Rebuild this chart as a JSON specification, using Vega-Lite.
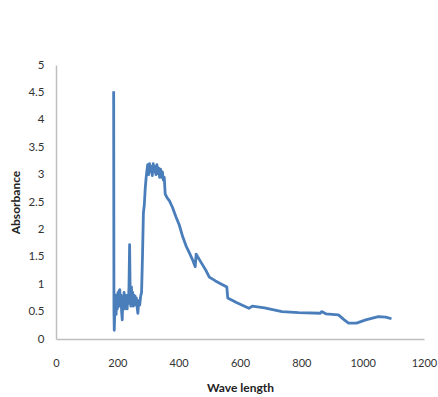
{
  "$schema": "https://vega.github.io/schema/vega-lite/v6.json",
  "autosize": "none",
  "width": 368,
  "height": 274,
  "padding": {"left": 56, "top": 65, "right": 14, "bottom": 58},
  "background": "white",
  "config": {"view": {"stroke": null}, "font": "Lato"},
  "data": {"values": [
    {"wl": 188, "abs": 4.52}, {"wl": 189, "abs": 0.5}, {"wl": 190, "abs": 0.16}, {"wl": 192, "abs": 0.55},
    {"wl": 194, "abs": 0.8}, {"wl": 196, "abs": 0.45}, {"wl": 198, "abs": 0.75}, {"wl": 200, "abs": 0.55},
    {"wl": 202, "abs": 0.85}, {"wl": 204, "abs": 0.6}, {"wl": 206, "abs": 0.88}, {"wl": 208, "abs": 0.9},
    {"wl": 210, "abs": 0.6}, {"wl": 212, "abs": 0.8}, {"wl": 214, "abs": 0.5}, {"wl": 216, "abs": 0.35},
    {"wl": 218, "abs": 0.75}, {"wl": 220, "abs": 0.6}, {"wl": 222, "abs": 0.85}, {"wl": 224, "abs": 0.55},
    {"wl": 226, "abs": 0.8}, {"wl": 228, "abs": 0.6}, {"wl": 230, "abs": 0.75}, {"wl": 232, "abs": 0.55},
    {"wl": 234, "abs": 0.8}, {"wl": 236, "abs": 0.65}, {"wl": 238, "abs": 0.95}, {"wl": 240, "abs": 1.72},
    {"wl": 242, "abs": 0.8}, {"wl": 244, "abs": 0.6}, {"wl": 246, "abs": 0.95}, {"wl": 248, "abs": 0.65},
    {"wl": 250, "abs": 0.85}, {"wl": 252, "abs": 0.6}, {"wl": 254, "abs": 0.8}, {"wl": 256, "abs": 0.62},
    {"wl": 258, "abs": 0.78}, {"wl": 260, "abs": 0.65}, {"wl": 262, "abs": 0.75}, {"wl": 264, "abs": 0.6},
    {"wl": 267, "abs": 0.47}, {"wl": 270, "abs": 0.7}, {"wl": 273, "abs": 0.62}, {"wl": 276, "abs": 0.78},
    {"wl": 279, "abs": 0.85}, {"wl": 282, "abs": 1.5}, {"wl": 285, "abs": 2.3}, {"wl": 288, "abs": 2.45},
    {"wl": 291, "abs": 2.75}, {"wl": 294, "abs": 2.95}, {"wl": 296, "abs": 3.05}, {"wl": 299, "abs": 3.18},
    {"wl": 302, "abs": 3.0}, {"wl": 305, "abs": 3.2}, {"wl": 308, "abs": 3.05}, {"wl": 311, "abs": 3.15},
    {"wl": 314, "abs": 2.98}, {"wl": 317, "abs": 3.2}, {"wl": 320, "abs": 3.05}, {"wl": 323, "abs": 3.15},
    {"wl": 326, "abs": 3.0}, {"wl": 329, "abs": 3.18}, {"wl": 332, "abs": 3.02}, {"wl": 335, "abs": 3.12},
    {"wl": 338, "abs": 2.95}, {"wl": 341, "abs": 3.1}, {"wl": 344, "abs": 2.95}, {"wl": 347, "abs": 3.05},
    {"wl": 350, "abs": 2.9}, {"wl": 353, "abs": 2.95}, {"wl": 356, "abs": 2.65}, {"wl": 362, "abs": 2.58},
    {"wl": 370, "abs": 2.52}, {"wl": 380, "abs": 2.4}, {"wl": 391, "abs": 2.23}, {"wl": 402, "abs": 2.08},
    {"wl": 413, "abs": 1.87}, {"wl": 424, "abs": 1.7}, {"wl": 435, "abs": 1.57}, {"wl": 445, "abs": 1.45},
    {"wl": 454, "abs": 1.32}, {"wl": 457, "abs": 1.55}, {"wl": 462, "abs": 1.5}, {"wl": 475, "abs": 1.38},
    {"wl": 490, "abs": 1.24}, {"wl": 500, "abs": 1.13}, {"wl": 520, "abs": 1.06}, {"wl": 540, "abs": 1.0},
    {"wl": 557, "abs": 0.95}, {"wl": 560, "abs": 0.75}, {"wl": 590, "abs": 0.66}, {"wl": 629, "abs": 0.56},
    {"wl": 640, "abs": 0.6}, {"wl": 680, "abs": 0.57}, {"wl": 737, "abs": 0.5}, {"wl": 791, "abs": 0.48},
    {"wl": 862, "abs": 0.47}, {"wl": 866, "abs": 0.5}, {"wl": 880, "abs": 0.46}, {"wl": 921, "abs": 0.44},
    {"wl": 940, "abs": 0.35}, {"wl": 954, "abs": 0.29}, {"wl": 980, "abs": 0.29}, {"wl": 1010, "abs": 0.35},
    {"wl": 1051, "abs": 0.41}, {"wl": 1075, "abs": 0.4}, {"wl": 1094, "abs": 0.37}
  ]},
  "mark": {"type": "line", "color": "#4a7ebb", "strokeWidth": 2.8, "strokeJoin": "round"},
  "encoding": {
    "x": {
      "field": "wl", "type": "quantitative",
      "scale": {"domain": [0, 1200], "nice": false, "zero": true},
      "axis": {
        "title": "Wave length", "values": [0, 200, 400, 600, 800, 1000, 1200], "format": "d",
        "grid": false, "ticks": false, "labelFlush": false, "domainColor": "#bfbfbf", "domainWidth": 1.5,
        "labelFont": "Lato", "labelFontSize": 11, "labelColor": "#333333", "labelPadding": 18,
        "titleFont": "Lato", "titleFontSize": 12, "titleFontWeight": "bold", "titleColor": "#222222", "titlePadding": 14
      }
    },
    "y": {
      "field": "abs", "type": "quantitative",
      "scale": {"domain": [0, 5], "nice": false},
      "axis": {
        "title": "Absorbance", "values": [0, 0.5, 1, 1.5, 2, 2.5, 3, 3.5, 4, 4.5, 5], "format": "~g",
        "grid": false, "ticks": false, "labelFlush": false, "domainColor": "#bfbfbf", "domainWidth": 1.5,
        "labelFont": "Lato", "labelFontSize": 11.5, "labelColor": "#333333", "labelPadding": 12,
        "titleFont": "Lato", "titleFontSize": 12, "titleFontWeight": "bold", "titleColor": "#222222", "titlePadding": 5
      }
    }
  }
}
